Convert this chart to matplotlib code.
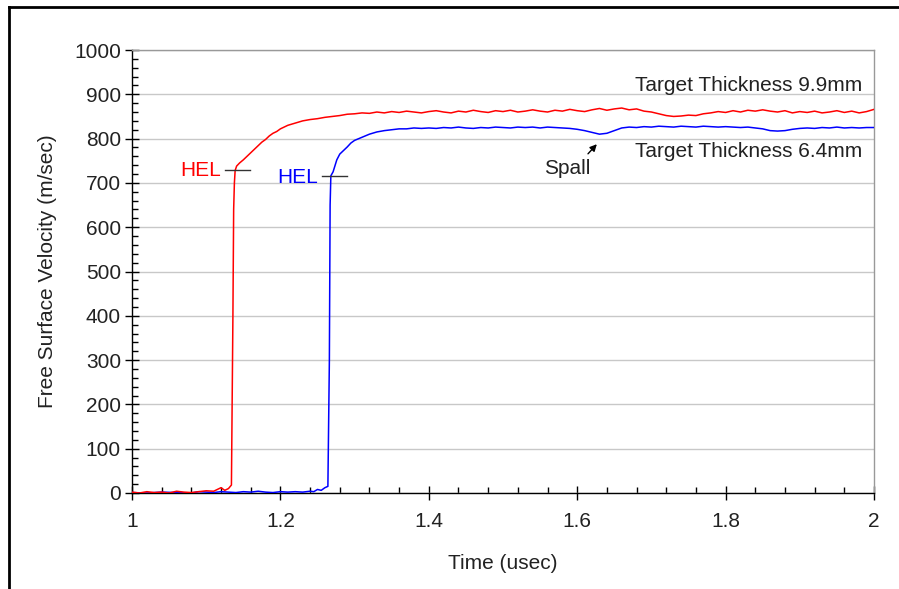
import matplotlib
matplotlib.use("Agg")
import matplotlib.pyplot as plt
from matplotlib.lines import Line2D
from matplotlib.ticker import MultipleLocator, FormatStrFormatter

plt.rcParams['font.family'] = ['Liberation Sans', 'DejaVu Sans']

# 9.9 mm target (red)
red_t = [1.00, 1.01, 1.02, 1.03, 1.04, 1.05, 1.06, 1.07, 1.08, 1.09, 1.10, 1.11, 1.115, 1.12, 1.125,
         1.13, 1.134, 1.136, 1.137, 1.138, 1.139, 1.141, 1.145, 1.15, 1.155, 1.16, 1.165, 1.17, 1.175,
         1.18, 1.185, 1.19, 1.195, 1.20, 1.21, 1.22, 1.23, 1.24, 1.25, 1.26, 1.27, 1.28, 1.29,
         1.30, 1.31, 1.32, 1.33, 1.34, 1.35, 1.36, 1.37, 1.38, 1.39,
         1.40, 1.41, 1.42, 1.43, 1.44, 1.45, 1.46, 1.47, 1.48, 1.49,
         1.50, 1.51, 1.52, 1.53, 1.54, 1.55, 1.56, 1.57, 1.58, 1.59,
         1.60, 1.61, 1.62, 1.63, 1.64, 1.65, 1.66, 1.67, 1.68, 1.69,
         1.70, 1.71, 1.72, 1.73, 1.74, 1.75, 1.76, 1.77, 1.78, 1.79,
         1.80, 1.81, 1.82, 1.83, 1.84, 1.85, 1.86, 1.87, 1.88, 1.89,
         1.90, 1.91, 1.92, 1.93, 1.94, 1.95, 1.96, 1.97, 1.98, 1.99, 2.00]
red_v = [2, 0, 3, 1, 2, 0, 4, 2, 1, 3, 5, 4, 8, 12, 6,
         10, 18, 400, 640, 700, 728, 738, 745, 752, 760, 768, 776, 784, 792,
         798, 806, 812, 816, 822, 830, 835, 840, 843, 845, 848, 850, 852, 855,
         856, 858, 857, 860, 858, 861, 859, 862, 860, 858,
         861, 863, 860, 858, 862, 860, 864, 861, 859, 863,
         861, 864, 860, 862, 865, 862, 860, 864, 862, 866,
         863, 861, 865, 868, 864, 867, 869, 865, 867, 862,
         860, 856, 852, 850, 851, 853, 852, 856, 858, 861,
         859, 863, 860, 864, 862, 865, 862, 860, 863, 858,
         861, 859, 862, 858, 860, 863, 859, 862, 858, 861, 866]

# 6.4 mm target (blue)
blue_t = [1.00, 1.02, 1.04, 1.06, 1.08,
          1.09, 1.10, 1.11, 1.12, 1.13, 1.14, 1.15, 1.16, 1.17, 1.18, 1.19, 1.20, 1.21, 1.22, 1.23, 1.24,
          1.245, 1.25, 1.255, 1.26, 1.264, 1.266, 1.267, 1.268, 1.271, 1.276, 1.28, 1.285, 1.29, 1.295, 1.30,
          1.31, 1.32, 1.33, 1.34, 1.35, 1.36, 1.37, 1.38, 1.39,
          1.40, 1.41, 1.42, 1.43, 1.44, 1.45, 1.46, 1.47, 1.48, 1.49,
          1.50, 1.51, 1.52, 1.53, 1.54, 1.55, 1.56, 1.57, 1.58, 1.59,
          1.60, 1.61, 1.62, 1.63, 1.64, 1.65, 1.66, 1.67, 1.68, 1.69,
          1.70, 1.71, 1.72, 1.73, 1.74, 1.75, 1.76, 1.77, 1.78, 1.79,
          1.80, 1.81, 1.82, 1.83, 1.84, 1.85, 1.86, 1.87, 1.88, 1.89,
          1.90, 1.91, 1.92, 1.93, 1.94, 1.95, 1.96, 1.97, 1.98, 1.99, 2.00]
blue_v = [1, 0, 2, 1, 0,
          3, 2, 1, 3, 2, 1, 3, 2, 4, 2, 1, 3, 2, 3, 2, 4,
          3, 8, 6, 12, 15, 300, 650, 716, 725, 752, 765, 773, 781, 790, 796,
          803, 810, 815, 818, 820, 822, 822, 824, 823,
          824, 823, 825, 824, 826, 824, 823, 825, 824, 826,
          825, 824, 826, 825, 826, 824, 826, 825, 824, 823,
          821, 818, 814, 810, 812, 818, 824, 826, 825, 827,
          826, 828, 827, 826, 828, 827, 826, 828, 827, 826,
          827, 826, 825, 826, 824, 822, 818, 817, 818, 821,
          823, 824, 823, 825, 824, 826, 824, 825, 824, 825, 825]

x_ticks = [1.0, 1.2, 1.4, 1.6, 1.8, 2.0]

fs = 15

fig = plt.figure(figsize=(8.99, 5.89), dpi=100)
ax = fig.add_axes([132 / 899, 1 - 493 / 589, 742 / 899, 443 / 589])

ax.plot(blue_t, blue_v, color='#0000ff', lw=1.1, zorder=3)
ax.plot(red_t, red_v, color='#ff0000', lw=1.1, zorder=4)

ax.set_xlim(1, 2)
ax.set_ylim(0, 1000)
ax.set_xticks(x_ticks)
ax.xaxis.set_major_formatter(FormatStrFormatter('%g'))
ax.xaxis.set_minor_locator(MultipleLocator(0.04))
ax.yaxis.set_major_locator(MultipleLocator(100))
ax.yaxis.set_minor_locator(MultipleLocator(20))

ax.tick_params(which='major', direction='inout', length=10, width=1, labelsize=fs,
               colors='black', labelcolor='#222222')
ax.tick_params(axis='x', which='major', pad=9)
ax.tick_params(axis='y', which='major', pad=3)
ax.tick_params(which='minor', direction='in', length=4, width=1)

ax.grid(axis='y', which='major', color='#c8c8c8', lw=1)
ax.set_axisbelow(True)
ax.spines['left'].set_color('black')
ax.spines['bottom'].set_color('black')
ax.spines['top'].set_color('#999999')
ax.spines['right'].set_color('#999999')
for s in ax.spines.values():
    s.set_linewidth(1)

ax.set_xlabel('Time (usec)', fontsize=fs, labelpad=16, color='#222222')
ax.set_ylabel('Free Surface Velocity (m/sec)', fontsize=fs, labelpad=12, color='#222222')

ax.text(1.984, 919, 'Target Thickness 9.9mm', ha='right', va='center', fontsize=fs, color='#222222')
ax.text(1.984, 770, 'Target Thickness 6.4mm', ha='right', va='center', fontsize=fs, color='#222222')
ax.text(1.555, 733, 'Spall', ha='left', va='center', fontsize=fs, color='#222222')
ax.annotate('', xy=(1.629, 792), xytext=(1.612, 761),
            arrowprops=dict(arrowstyle='-|>', color='black', lw=1, mutation_scale=10))

ax.text(1.120, 727, 'HEL', ha='right', va='center', fontsize=fs, color='#ff0000')
ax.plot([1.125, 1.159], [729, 729], color='#333333', lw=1, zorder=5)
ax.text(1.251, 713, 'HEL', ha='right', va='center', fontsize=fs, color='#0000ff')
ax.plot([1.256, 1.290], [716, 716], color='#333333', lw=1, zorder=5)

# outer frame (top and left edges only)
fig.add_artist(Line2D([8.5 / 899, 1], [1 - 6.5 / 589, 1 - 6.5 / 589], color='black', lw=2))
fig.add_artist(Line2D([8.5 / 899, 8.5 / 899], [0, 1 - 6.5 / 589], color='black', lw=2))

fig.savefig('out.png', dpi=100)
